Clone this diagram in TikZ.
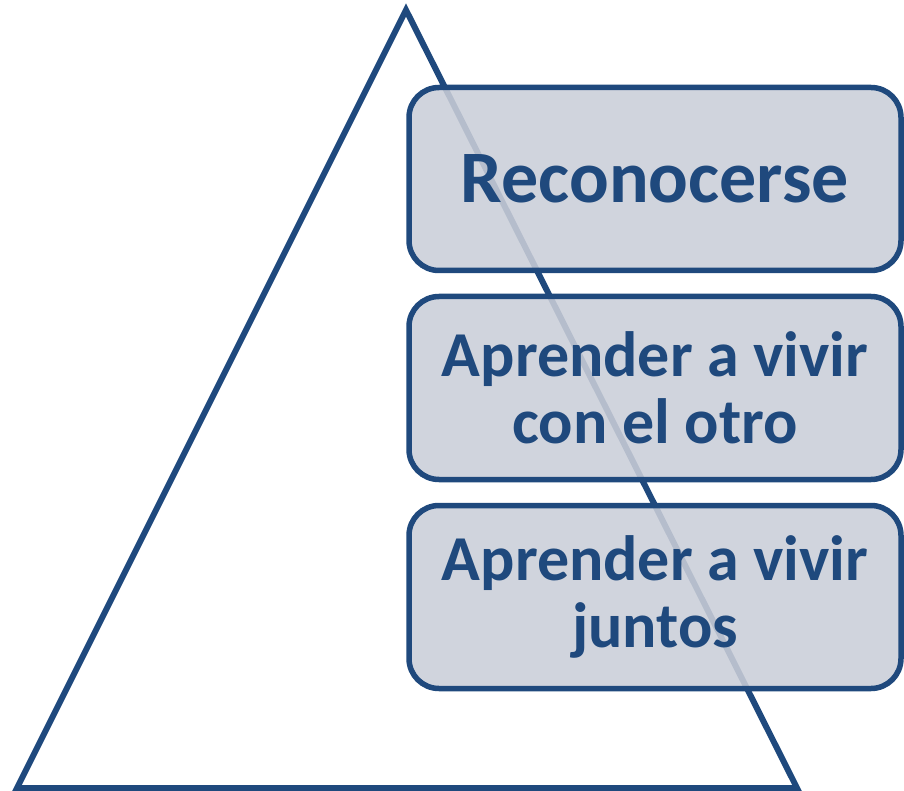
\documentclass[tikz,border=0pt]{standalone}
\usepackage{fontspec}
\setmainfont{Carlito}
\usepackage{tikz}
\usetikzlibrary{positioning}
\usetikzlibrary{calc}

\definecolor{pyrblue}{RGB}{31,73,125}
\definecolor{boxgray}{RGB}{202,206,216}

\begin{document}
\begin{tikzpicture} [x=1pt,y=-1pt,
            stage/.style={draw=pyrblue,line width=5.5pt,rounded corners=30pt,
                fill=boxgray,fill opacity=0.88,text opacity=1,
                minimum width=492pt,minimum height=183pt,inner sep=0pt,
                text=pyrblue,font=\bfseries\fontsize{64}{67}\selectfont},
            pyr/.style={draw=pyrblue,line width=6pt,line join=miter},
         every node/.append style={align=center}]

\useasboundingbox (0,0) rectangle (904,791);

%triangle
\coordinate (apex) at (406,10);
\coordinate (bl) at (17,788);
\coordinate (br) at (797,788);
\draw[pyr] (apex) -- (br) -- (bl) -- cycle;

%top
\node (recon) at (655,179) [stage,font=\bfseries\fontsize{74}{78}\selectfont] {Reconocerse};

%middle
\node (otro) at (655,388) [stage] {Aprender a vivir\\con el otro};

%bottom
\node (juntos) at (655,597) [stage] {Aprender a vivir\\juntos};

\end{tikzpicture}
\end{document}
